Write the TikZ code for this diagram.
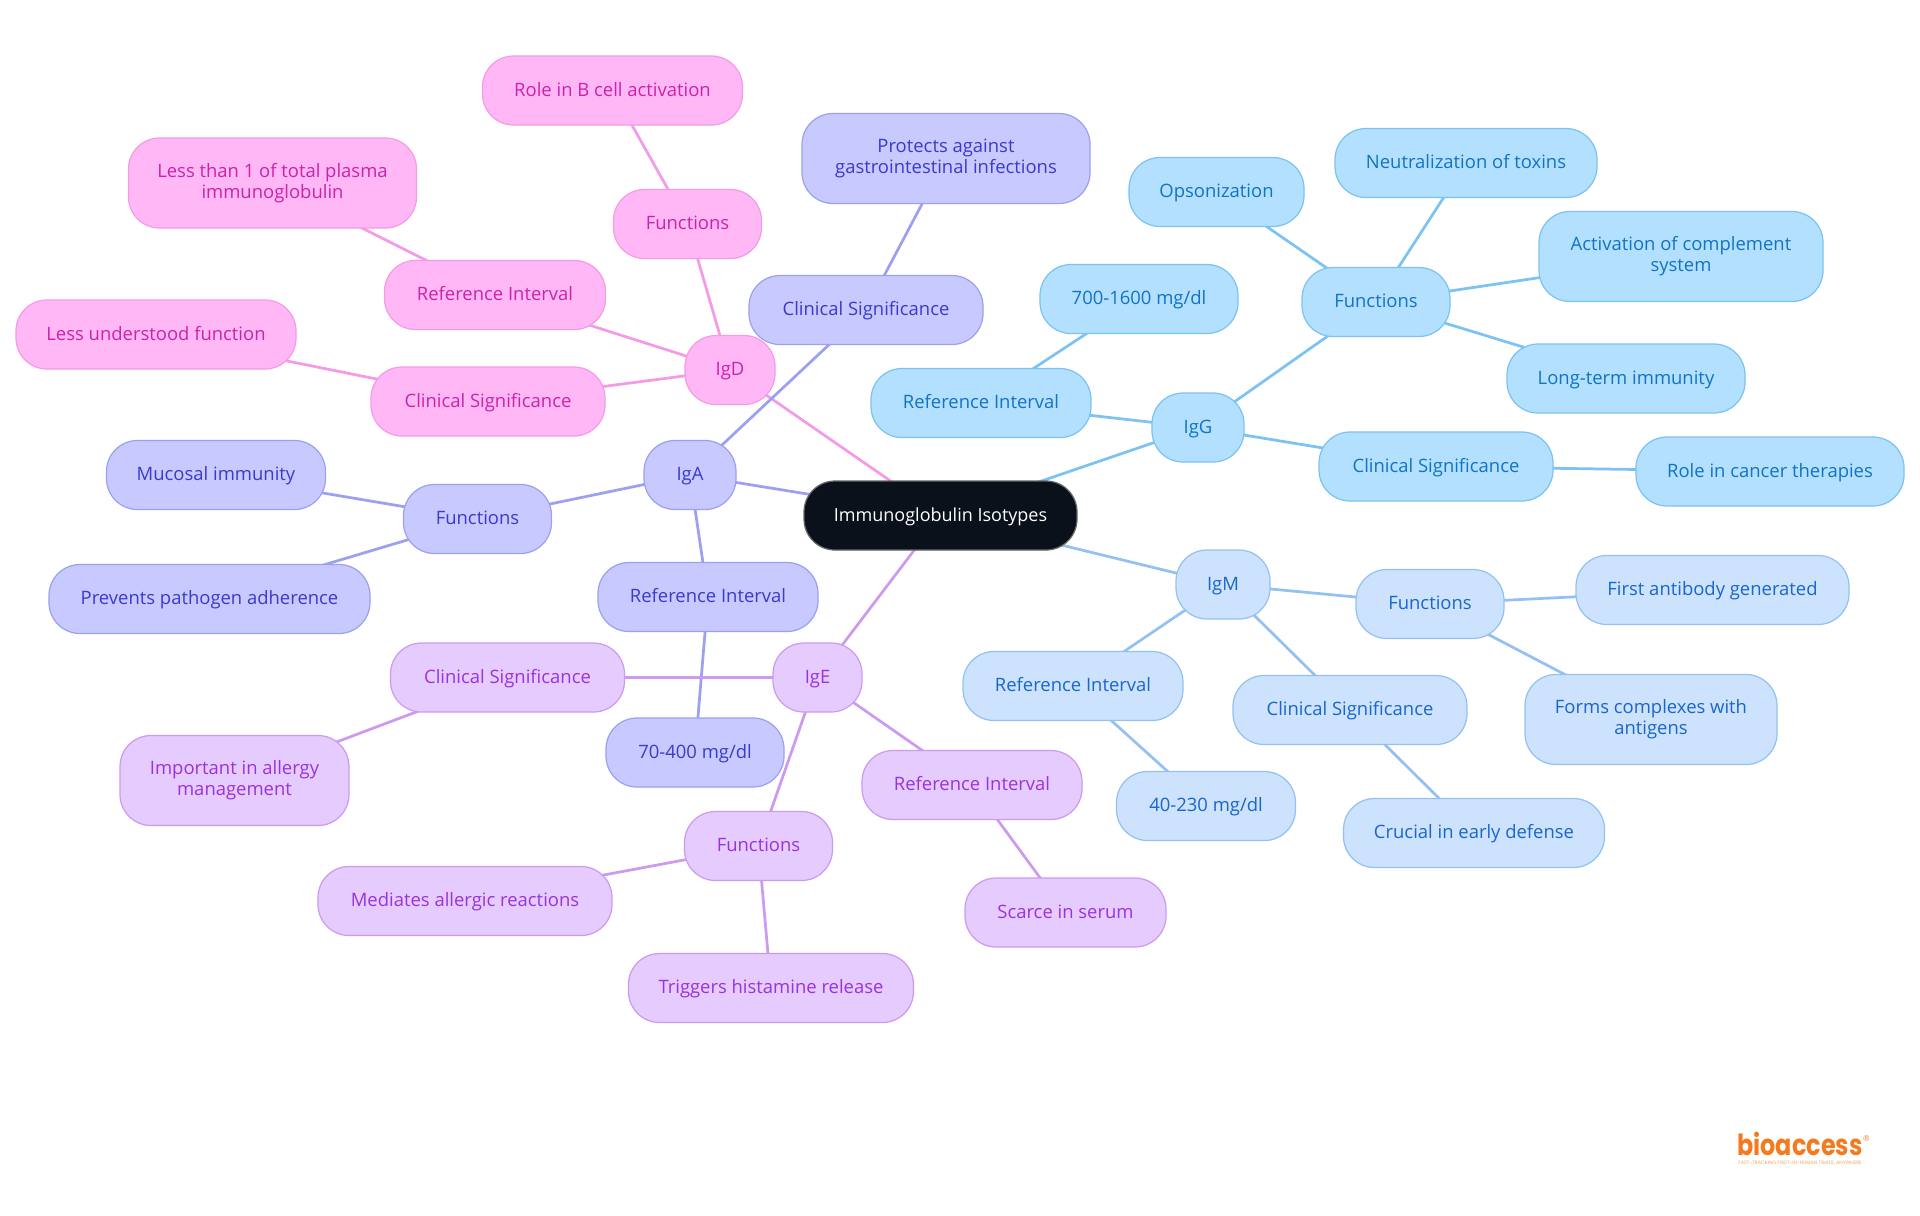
\documentclass[tikz,border=0pt]{standalone}
\usepackage{fontspec}
\setmainfont{Open Sans}
\newfontfamily\brandfont[FakeStretch=0.82]{Poppins Bold}
\newfontfamily\sloganfont{Poppins}
\newfontfamily\markfont{DejaVu Sans}
\usetikzlibrary{backgrounds}
\definecolor{gfill}{HTML}{B3E0FF}\definecolor{gline}{HTML}{7CC2F2}\definecolor{gtext}{HTML}{1173C6}
\definecolor{mfill}{HTML}{CCE2FD}\definecolor{mline}{HTML}{94C1F2}\definecolor{mtext}{HTML}{1A66CC}
\definecolor{afill}{HTML}{C8CAFF}\definecolor{aline}{HTML}{9BA0F0}\definecolor{atext}{HTML}{3A3ACC}
\definecolor{efill}{HTML}{E6CBFF}\definecolor{eline}{HTML}{CC9BEF}\definecolor{etext}{HTML}{9933DD}
\definecolor{dfill}{HTML}{FFB8F5}\definecolor{dline}{HTML}{F59AE6}\definecolor{dtext}{HTML}{CC22AA}
\definecolor{rootfill}{HTML}{0B111A}\definecolor{logo}{HTML}{F47A20}
\newcommand{\pillstrut}{\vrule width 0pt height 4.45pt depth 1.25pt\relax}
\tikzset{
  pill/.style={rounded corners=.31cm, line width=.35pt, minimum height=.69cm, inner sep=0pt, align=center,
    font=\fontsize{5.25}{5.9}\selectfont, execute at begin node=\pillstrut, execute at end node=\pillstrut},
  tall/.style={minimum height=.9cm},
  gbox/.style={pill, fill=gfill, draw=gline, text=gtext},
  mbox/.style={pill, fill=mfill, draw=mline, text=mtext},
  abox/.style={pill, fill=afill, draw=aline, text=atext},
  ebox/.style={pill, fill=efill, draw=eline, text=etext},
  dbox/.style={pill, fill=dfill, draw=dline, text=dtext},
  wire/.style={line width=.78pt}
}
\begin{document}
\begin{tikzpicture}
\useasboundingbox (0,0) rectangle (19.2,-12.15);
\node[pill, fill=rootfill, draw=black!60, text=white, minimum width=2.73cm, font=\fontsize{5.12}{5.9}\selectfont] (root) at (9.405,-5.155) {Immunoglobulin Isotypes};
% IgG
\node[gbox, minimum width=.92cm] (igg) at (11.98,-4.275) {IgG};
\node[gbox, minimum width=1.48cm] (iggfun) at (13.76,-3.02) {Functions};
\node[gbox, minimum width=2.2cm] (iggref) at (9.81,-4.03) {Reference Interval};
\node[gbox, minimum width=2.34cm] (iggcli) at (14.36,-4.665) {Clinical Significance};
\node[gbox, minimum width=1.98cm] (iggval) at (11.39,-2.99) {700-1600 mg/dl};
\node[gbox, minimum width=1.75cm] (iggops) at (12.165,-1.92) {Opsonization};
\node[gbox, minimum width=2.62cm] (iggneu) at (14.66,-1.63) {Neutralization of toxins};
\node[gbox, tall, minimum width=2.84cm] (iggact) at (16.81,-2.565) {Activation of complement\\system};
\node[gbox, minimum width=2.38cm] (igglon) at (16.26,-3.785) {Long-term immunity};
\node[gbox, minimum width=2.68cm] (iggrol) at (17.70,-4.715) {Role in cancer therapies};
% IgM
\node[mbox, minimum width=.94cm] (igm) at (12.23,-5.845) {IgM};
\node[mbox, minimum width=1.48cm] (igmfun) at (14.30,-6.04) {Functions};
\node[mbox, minimum width=2.2cm] (igmref) at (10.73,-6.86) {Reference Interval};
\node[mbox, minimum width=2.34cm] (igmcli) at (13.50,-7.10) {Clinical Significance};
\node[mbox, minimum width=2.73cm] (igmfir) at (17.125,-5.90) {First antibody generated};
\node[mbox, tall, minimum width=2.52cm] (igmfor) at (16.51,-7.195) {Forms complexes with\\antigens};
\node[mbox, minimum width=1.79cm] (igmval) at (12.06,-8.06) {40-230 mg/dl};
\node[mbox, minimum width=2.61cm] (igmcru) at (14.74,-8.33) {Crucial in early defense};
% IgA
\node[abox, minimum width=.92cm] (iga) at (6.90,-4.75) {IgA};
\node[abox, minimum width=1.48cm] (igafun) at (4.775,-5.19) {Functions};
\node[abox, minimum width=2.2cm] (igaref) at (7.08,-5.97) {Reference Interval};
\node[abox, minimum width=2.34cm] (igacli) at (8.66,-3.10) {Clinical Significance};
\node[abox, tall, minimum width=2.88cm] (igapro) at (9.46,-1.585) {Protects against\\gastrointestinal infections};
\node[abox, minimum width=2.19cm] (igamuc) at (2.16,-4.75) {Mucosal immunity};
\node[abox, minimum width=3.21cm] (igapre) at (2.095,-5.99) {Prevents pathogen adherence};
\node[abox, minimum width=1.78cm] (igaval) at (6.95,-7.525) {70-400 mg/dl};
% IgD
\node[dbox, minimum width=.90cm] (igd) at (7.30,-3.70) {IgD};
\node[dbox, minimum width=1.48cm] (igdfun) at (6.875,-2.24) {Functions};
\node[dbox, minimum width=2.21cm] (igdref) at (4.95,-2.95) {Reference Interval};
\node[dbox, minimum width=2.34cm] (igdcli) at (4.88,-4.015) {Clinical Significance};
\node[dbox, minimum width=2.6cm] (igdrol) at (6.125,-.905) {Role in B cell activation};
\node[dbox, tall, minimum width=2.88cm] (igdles) at (2.725,-1.83) {Less than 1 of total plasma\\immunoglobulin};
\node[dbox, minimum width=2.8cm] (igdund) at (1.56,-3.345) {Less understood function};
% IgE
\node[ebox, minimum width=.89cm] (ige) at (8.175,-6.775) {IgE};
\node[ebox, minimum width=2.34cm] (igecli) at (5.075,-6.775) {Clinical Significance};
\node[ebox, minimum width=1.48cm] (igefun) at (7.585,-8.46) {Functions};
\node[ebox, minimum width=2.2cm] (igeref) at (9.72,-7.85) {Reference Interval};
\node[ebox, tall, minimum width=2.29cm] (igeimp) at (2.345,-7.805) {Important in allergy\\management};
\node[ebox, minimum width=2.94cm] (igemed) at (4.65,-9.01) {Mediates allergic reactions};
\node[ebox, minimum width=2.85cm] (igetri) at (7.71,-9.88) {Triggers histamine release};
\node[ebox, minimum width=2.01cm] (igesca) at (10.655,-9.125) {Scarce in serum};
% logo
\node[inner sep=0pt, anchor=base, text=logo, font=\brandfont\fontsize{8.3}{8.3}\selectfont] (brand) at (18,-11.55) {bioaccess};
\node[inner sep=0pt, anchor=base, text=logo!70, font=\sloganfont\fontsize{1.39}{1.5}\selectfont] (slogan) at (18,-11.645) {FAST-TRACKING FIRST-IN-HUMAN TRIALS, ANYWHERE};
\node[inner sep=0pt, text=logo, font=\markfont\fontsize{2.3}{2.3}\selectfont] (regmark) at (18.665,-11.39) {®};
\begin{scope}[on background layer]
\foreach \a/\b in {root/igg,igg/iggfun,igg/iggref,igg/iggcli,iggref/iggval,iggfun/iggops,iggfun/iggneu,iggfun/iggact,iggfun/igglon,iggcli/iggrol}
  \draw[wire, gline] (\a.center) -- (\b.center);
\foreach \a/\b in {root/igm,igm/igmfun,igm/igmref,igm/igmcli,igmfun/igmfir,igmfun/igmfor,igmref/igmval,igmcli/igmcru}
  \draw[wire, mline] (\a.center) -- (\b.center);
\foreach \a/\b in {root/igd,igd/igdfun,igd/igdref,igd/igdcli,igdfun/igdrol,igdref/igdles,igdcli/igdund}
  \draw[wire, dline] (\a.center) -- (\b.center);
\foreach \a/\b in {root/iga,iga/igafun,iga/igaref,iga/igacli,igacli/igapro,igafun/igamuc,igafun/igapre,igaref/igaval}
  \draw[wire, aline] (\a.center) -- (\b.center);
\foreach \a/\b in {root/ige,ige/igecli,ige/igefun,ige/igeref,igecli/igeimp,igefun/igemed,igefun/igetri,igeref/igesca}
  \draw[wire, eline] (\a.center) -- (\b.center);
\end{scope}
\end{tikzpicture}
\end{document}
